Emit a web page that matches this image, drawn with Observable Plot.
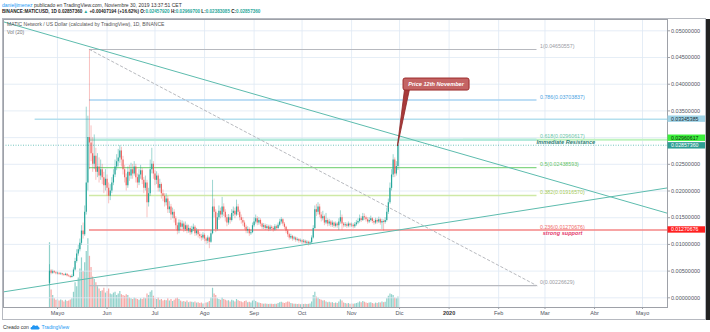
<!DOCTYPE html>
<html><head><meta charset="utf-8">
<script src="https://cdn.jsdelivr.net/npm/d3@7"></script>
<script src="https://cdn.jsdelivr.net/npm/@observablehq/plot@0.6"></script>
<style>
body{margin:0;background:#fff;font-family:"Liberation Sans",Arial,sans-serif;}
#wrap{position:relative;width:710px;height:332px;overflow:hidden;background:#fff;}
.t{position:absolute;white-space:nowrap;line-height:1;}
#pane{position:absolute;left:2px;top:18px;width:704px;height:302px;border:1px solid #b6b9c0;box-sizing:border-box;}
#strip{position:absolute;left:706px;top:19px;width:4px;height:301px;background:#222;}
.layer{position:absolute;left:0;top:19px;}
</style></head>
<body><div id="wrap">
<div class="t" style="left:2px;top:2.5px;font-size:5px;color:#333"><span style="color:#2196f3">danieljimenez</span> publicado en TradingView.com, Noviembre 30, 2019 13:37:51 CET</div>
<div class="t" style="left:2px;top:10px;font-size:4.6px;color:#222;font-weight:bold">BINANCE:MATICUSD, 1D 0.02857360 <span style="color:#26a69a">▲</span> +0.00407194 (+16.62%) O:<span style="color:#26a69a">0.02457920</span> H:<span style="color:#26a69a">0.02969700</span> L:<span style="color:#26a69a">0.02383085</span> C:<span style="color:#26a69a">0.02857360</span></div>
<div id="pane"></div>
<div id="strip"></div>
<div id="volLayer" class="layer"></div>
<div id="mainLayer" class="layer"></div>
<div class="t" style="left:7px;top:22px;font-size:5px;color:#555">MATIC Network / US Dollar (calculated by TradingView), 1D, BINANCE</div>
<div class="t" style="left:7px;top:30px;font-size:5px;color:#777">Vol (20)</div>
<div class="t" style="left:3px;top:324px;font-size:5px;color:#333">Creado con
<svg width="10" height="6" viewBox="0 0 20 12" style="vertical-align:-1px"><path d="M4 11 C0 11 0 6 4 6 C4 2 9 1 11 4 C13 2 17 3 17 6 C20 6 20 11 17 11 Z" fill="#2196f3"/></svg>
<span style="color:#2196f3">TradingView</span></div>
</div>
<script>
// ---------- DATA ----------
const startDate = "2019-04-26";
const firstOpen = 0.0027;
const closes = [
0.0050,0.0046,0.0049,0.0047,0.0045,0.0046,0.0044,0.0045,0.0043,0.0042,
0.0044,0.0041,0.0040,0.0038,0.0040,0.0052,0.0068,0.0082,0.0090,0.0102,
0.0125,0.0118,0.0160,0.0215,0.0300,0.0290,0.0270,0.0250,0.0265,0.0235,
0.0245,0.0228,0.0240,0.0225,0.0210,0.0222,0.0205,0.0190,0.0200,0.0215,
0.0230,0.0245,0.0255,0.0262,0.0275,0.0258,0.0240,0.0225,0.0210,0.0235,
0.0228,0.0240,0.0232,0.0245,0.0225,0.0215,0.0230,0.0238,0.0220,0.0205,
0.0215,0.0178,0.0195,0.0240,0.0250,0.0232,0.0220,0.0228,0.0205,0.0212,
0.0195,0.0190,0.0178,0.0185,0.0165,0.0170,0.0155,0.0160,0.0148,0.0135,
0.0125,0.0140,0.0132,0.0138,0.0128,0.0135,0.0125,0.0130,0.0122,0.0128,
0.0132,0.0120,0.0125,0.0118,0.0115,0.0112,0.0117,0.0110,0.0106,0.0112,
0.0104,0.0120,0.0170,0.0160,0.0128,0.0150,0.0162,0.0155,0.0170,0.0160,
0.0150,0.0140,0.0150,0.0145,0.0158,0.0162,0.0155,0.0170,0.0160,0.0150,
0.0145,0.0140,0.0132,0.0125,0.0128,0.0120,0.0122,0.0135,0.0142,0.0148,
0.0140,0.0145,0.0138,0.0132,0.0135,0.0130,0.0133,0.0128,0.0132,0.0130,
0.0127,0.0133,0.0130,0.0136,0.0142,0.0146,0.0138,0.0132,0.0125,0.0118,
0.0112,0.0115,0.0110,0.0112,0.0108,0.0109,0.0106,0.0107,0.0104,0.0106,
0.0102,0.0104,0.0101,0.0103,0.0112,0.0130,0.0165,0.0160,0.0170,0.0155,
0.0148,0.0152,0.0140,0.0145,0.0138,0.0142,0.0136,0.0140,0.0134,0.0138,
0.0135,0.0142,0.0150,0.0138,0.0135,0.0137,0.0134,0.0138,0.0135,0.0136,
0.0133,0.0137,0.0140,0.0143,0.0148,0.0145,0.0152,0.0150,0.0146,0.0142,
0.0145,0.0148,0.0143,0.0140,0.0145,0.0142,0.0146,0.0140,0.0143,0.0141,
0.0145,0.0160,0.0178,0.0205,0.0230,0.0258,0.0232,0.02458,0.0285736];
const highs = [
0.0062,0.0053,0.0052,0.0051,0.0049,0.0048,0.0047,0.0047,0.0046,0.0045,
0.0046,0.0045,0.0043,0.0042,0.0043,0.0056,0.0074,0.0090,0.0098,0.0110,
0.0135,0.0140,0.0172,0.0357,0.0340,0.04650557,0.0322,0.0300,0.0305,0.0280,
0.0270,0.0262,0.0258,0.0250,0.0235,0.0240,0.0230,0.0215,0.0212,0.0225,
0.0240,0.0258,0.0268,0.0278,0.0285,0.0282,0.0265,0.0248,0.0232,0.0245,
0.0248,0.0252,0.0250,0.0255,0.0250,0.0232,0.0240,0.0248,0.0242,0.0225,
0.0228,0.0220,0.0205,0.0258,0.0280,0.0255,0.0238,0.0236,0.0232,0.0222,
0.0215,0.0202,0.0195,0.0195,0.0190,0.0180,0.0175,0.0168,0.0165,0.0152,
0.0140,0.0146,0.0145,0.0144,0.0142,0.0142,0.0138,0.0136,0.0133,0.0134,
0.0138,0.0135,0.0130,0.0128,0.0122,0.0119,0.0122,0.0120,0.0113,0.0116,
0.0114,0.0126,0.0220,0.0185,0.0165,0.0158,0.0172,0.0168,0.0188,0.0176,
0.0165,0.0155,0.0156,0.0155,0.0165,0.0170,0.0168,0.0183,0.0175,0.0164,
0.0155,0.0150,0.0144,0.0136,0.0133,0.0131,0.0127,0.0140,0.0150,0.0155,
0.0152,0.0150,0.0148,0.0140,0.0139,0.0138,0.0137,0.0136,0.0136,0.0135,
0.0133,0.0137,0.0136,0.0140,0.0147,0.0150,0.0148,0.0141,0.0134,0.0128,
0.0121,0.0119,0.0117,0.0115,0.0114,0.0112,0.0111,0.0110,0.0109,0.0109,
0.0108,0.0107,0.0106,0.0106,0.0116,0.0135,0.0172,0.0175,0.0178,0.0175,
0.0160,0.0162,0.0155,0.0158,0.0148,0.0147,0.0145,0.0144,0.0142,0.0142,
0.0141,0.0148,0.0163,0.0155,0.0141,0.0141,0.0140,0.0142,0.0140,0.0140,
0.0139,0.0141,0.0145,0.0148,0.0155,0.0152,0.0158,0.0157,0.0153,0.0150,
0.0150,0.0153,0.0150,0.0146,0.0149,0.0148,0.0151,0.0149,0.0147,0.0146,
0.0150,0.0168,0.0185,0.0215,0.0240,0.0268,0.0262,0.0255,0.029697];
const lows = [
0.00226629,0.0043,0.0044,0.0045,0.0043,0.0043,0.0042,0.0042,0.0041,0.0040,
0.0041,0.0039,0.0038,0.0036,0.0037,0.0039,0.0050,0.0065,0.0078,0.0086,
0.0098,0.0110,0.0115,0.0155,0.0200,0.0240,0.0255,0.0235,0.0240,0.0220,
0.0225,0.0215,0.0220,0.0212,0.0195,0.0200,0.0190,0.0176,0.0182,0.0195,
0.0210,0.0225,0.0238,0.0245,0.0252,0.0245,0.0230,0.0215,0.0200,0.0205,
0.0218,0.0222,0.0222,0.0228,0.0215,0.0205,0.0210,0.0222,0.0212,0.0195,
0.0200,0.0150,0.0170,0.0190,0.0232,0.0222,0.0210,0.0212,0.0198,0.0198,
0.0185,0.0180,0.0170,0.0172,0.0158,0.0158,0.0145,0.0148,0.0140,0.0128,
0.0118,0.0120,0.0126,0.0128,0.0122,0.0124,0.0120,0.0121,0.0117,0.0118,
0.0124,0.0115,0.0116,0.0112,0.0110,0.0106,0.0108,0.0105,0.0100,0.0101,
0.0092,0.0102,0.0118,0.0150,0.0122,0.0125,0.0145,0.0148,0.0150,0.0152,
0.0142,0.0133,0.0136,0.0138,0.0142,0.0152,0.0148,0.0152,0.0154,0.0144,
0.0138,0.0134,0.0127,0.0120,0.0120,0.0115,0.0117,0.0120,0.0132,0.0138,
0.0135,0.0136,0.0133,0.0128,0.0128,0.0126,0.0127,0.0124,0.0125,0.0126,
0.0123,0.0125,0.0126,0.0128,0.0133,0.0138,0.0134,0.0128,0.0120,0.0113,
0.0108,0.0109,0.0106,0.0107,0.0104,0.0105,0.0102,0.0103,0.0100,0.0101,
0.0098,0.0099,0.0097,0.0098,0.0101,0.0110,0.0128,0.0152,0.0155,0.0150,
0.0142,0.0144,0.0135,0.0137,0.0133,0.0134,0.0132,0.0132,0.0130,0.0131,
0.0130,0.0126,0.0138,0.0126,0.0131,0.0132,0.0130,0.0131,0.0131,0.0132,
0.0129,0.0130,0.0134,0.0137,0.0140,0.0141,0.0143,0.0145,0.0142,0.0138,
0.0139,0.0142,0.0139,0.0136,0.0137,0.0138,0.0139,0.0136,0.0128,0.0125,
0.0138,0.0142,0.0156,0.0175,0.0200,0.0225,0.0225,0.0228,0.02383085];
const volumes = [
810,220,150,110,90,100,80,95,85,70,
90,75,80,95,110,190,310,260,370,480,
620,450,560,700,860,640,500,380,350,310,
260,230,200,210,240,180,200,230,170,160,
180,190,150,170,200,160,150,140,160,150,
120,110,100,120,110,100,90,110,100,120,
110,170,150,190,210,140,110,100,120,90,
100,80,90,85,110,80,100,75,90,110,
120,100,80,70,75,65,80,60,70,65,
60,70,55,60,50,55,45,50,55,60,
75,120,240,170,150,110,100,90,120,100,
90,80,85,70,90,80,70,100,85,75,
70,60,75,80,60,65,55,80,90,75,
60,55,50,45,40,45,40,38,42,40,
38,42,40,50,60,65,55,50,60,70,
65,50,45,40,42,38,40,35,40,38,
42,38,40,45,70,150,190,130,120,100,
90,80,85,70,60,65,55,60,50,55,
50,70,95,80,55,50,45,50,42,45,
40,45,50,55,70,60,75,65,55,50,
55,60,50,45,55,50,60,55,70,60,
65,110,140,170,160,150,120,110,130];

const monthTicks = ["2019-05-01","2019-06-01","2019-07-01","2019-08-01","2019-09-01","2019-10-01","2019-11-01","2019-12-01","2020-01-01","2020-02-01","2020-03-01","2020-04-01","2020-05-01"];
const monthLabels = ["Mayo","Jun","Jul","Ago","Sep","Oct","Nov","Dic","2020","Feb","Mar","Abr","Mayo"];
const priceTicks = [0,0.005,0.01,0.015,0.02,0.025,0.03,0.035,0.04,0.045,0.05];
// the 0.03 tick label is hidden behind the price tags in the original
const priceTickLabels = [0,0.005,0.01,0.015,0.02,0.025,0.035,0.04,0.045,0.05];

const fibLevels = ["0","0.236","0.382","0.5","0.618","0.786","1"];
const fibPrices = [0.00226629,0.01270676,0.01916570,0.02438593,0.02960617,0.03703837,0.04650557];
const fibStart = "2019-05-21", fibEnd = "2020-02-25";

const descLine = [{date:"2019-03-28",price:0.0517},{date:"2020-05-17",price:0.0158}];
const ascLine  = [{date:"2019-03-28",price:0.0011},{date:"2020-05-17",price:0.0206}];
const fibDiag  = [{date:"2019-05-21",price:0.04650557},{date:"2020-02-25",price:0.00226629}];

const blueLevel = {price:0.03345385, from:"2019-04-17"};
const resistLevel = {price:0.02960617, from:"2020-01-10"};
const lastPrice = 0.0285736;

const notes = [
  {date:"2020-03-14", price:0.02915, text:"Immediate Resistance"},
  {date:"2020-03-12", price:0.01213, text:"strong support"}
];
const callout = {tipDate:"2019-11-30", tipPrice:0.02833, boxDate:"2019-12-03T12:00Z", boxPrice:0.03994, text:"Price 12th November"};
const tags = [
  {price:0.03345385, bg:"#9fd3e6", fg:"#1b2a33", shift:0},
  {price:0.02960617, bg:"#3cf03c", fg:"#0b2a0b", shift:-1.5},
  {price:0.0285736, bg:"#2f9e93", fg:"#ffffff", shift:0.6},
  {price:0.01270676, bg:"#ff1f1f", fg:"#ffffff", shift:0}
];

// ---------- STYLES ----------
const UP = "#26a69a", DOWN = "#ef5350";
const fibColors = ["#b7b9bf","#f48686","#cfe9a6","#86d686","#b4eadc","#a9d3f2","#b7b9bf"];
const fibText   = ["#9a9ca3","#ef6b6b","#a8cc5a","#66c466","#6cc6a8","#4aa3df","#9a9ca3"];
const fibWidth  = [1.2,1.4,1.6,1.2,2.4,1.6,1.2];

// ---------- BUILD ----------
const D = s => new Date(s.length === 10 ? s + "T00:00:00Z" : s);
const DAY = 864e5;
const t0 = D(startDate).getTime();
const candles = closes.map((c, i) => ({
  date: new Date(t0 + i * DAY),
  open: i === 0 ? firstOpen : closes[i - 1],
  close: c, high: highs[i], low: lows[i], volume: volumes[i]
}));
const upC = candles.filter(d => d.close >= d.open);
const downC = candles.filter(d => d.close < d.open);
const xDomain = [D("2019-03-28T05:17:00Z"), D("2020-05-16T15:22:00Z")];
const ticksD = monthTicks.map(D);
const labelOf = new Map(ticksD.map((d, i) => [+d, monthLabels[i]]));
const pt = a => a.map(p => ({date: D(p.date), price: p.price}));

const common = {width:710, height:301, marginLeft:3, marginRight:43, marginBottom:13};
const fontFam = '"Liberation Sans", Arial, sans-serif';

const vol = Plot.plot({
  ...common, marginTop:208,
  x:{type:"utc", domain:xDomain, axis:null},
  y:{domain:[0,1000], axis:null},
  style:{background:"transparent"},
  marks:[
    Plot.ruleX(upC, {x:"date", y1:0, y2:"volume", stroke:UP, strokeOpacity:0.5, strokeWidth:1.2}),
    Plot.ruleX(downC, {x:"date", y1:0, y2:"volume", stroke:DOWN, strokeOpacity:0.5, strokeWidth:1.2})
  ]
});
document.getElementById("volLayer").appendChild(vol);

function calloutMark(index, scales, values, dims) {
  const ax = scales.x(D(callout.tipDate)), ay = scales.y(callout.tipPrice);
  const bx = scales.x(D(callout.boxDate)), by = scales.y(callout.boxPrice);
  const g = d3.create("svg:g");
  g.append("path").attr("d", `M${bx+1.5},${by+5} L${bx+6.5},${by+5} L${ax},${ay} Z`)
    .attr("fill","#a83a3a").attr("stroke","#8e2424").attr("stroke-width",0.8);
  g.append("rect").attr("x",bx).attr("y",by-6).attr("width",66).attr("height",12).attr("rx",2)
    .attr("fill","#c46464").attr("stroke","#9c2c2c").attr("stroke-width",1);
  g.append("text").attr("x",bx+33).attr("y",by).attr("dy","0.35em").attr("text-anchor","middle")
    .attr("fill","#fff").attr("font-size",5.6).attr("font-weight","bold").attr("font-style","italic")
    .attr("font-family",fontFam).text(callout.text);
  return g.node();
}
function tagMark(index, scales, values, dims) {
  const g = d3.create("svg:g").attr("text-anchor","start");
  const x0 = dims.width - dims.marginRight;
  tags.forEach(t => {
    const yy = scales.y(t.price) + t.shift;
    g.append("rect").attr("x",x0+0.5).attr("y",yy-3.2).attr("width",37.5).attr("height",6.4).attr("fill",t.bg);
    g.append("text").attr("x",x0+4).attr("y",yy).attr("dy","0.36em").attr("font-size",5.2)
      .attr("text-anchor","start").attr("font-family",fontFam).attr("fill",t.fg).text(t.price.toFixed(8));
  });
  return g.node();
}

const fibMarks = fibPrices.flatMap((p, i) => [
  Plot.ruleY([p], {x1:() => D(fibStart), x2:() => D(i === 1 ? "2020-05-17" : fibEnd), stroke:fibColors[i], strokeWidth:fibWidth[i]}),
  Plot.text([p], {x:() => D(fibEnd), y:d => d, text:() => `${fibLevels[i]}(${p.toFixed(8)})`, dx:3, dy:-3, textAnchor:"start", fill:fibText[i], fontSize:5.3})
]);

const main = Plot.plot({
  ...common, marginTop:0,
  x:{type:"utc", domain:xDomain},
  y:{domain:[-0.001816, 0.05212]},
  style:{background:"transparent", fontFamily:fontFam, fontSize:"5.5px", color:"#50535e", overflow:"visible"},
  marks:[
    Plot.gridX(ticksD, {stroke:"#dfe9f4", strokeOpacity:0.8}),
    Plot.gridY(priceTicks, {stroke:"#dfe9f4", strokeOpacity:0.8}),
    Plot.ruleY([blueLevel.price], {x1:() => D(blueLevel.from), x2:() => xDomain[1], stroke:"#b4dfee", strokeWidth:1.5}),
    Plot.ruleY([resistLevel.price], {x1:() => D(resistLevel.from), x2:() => xDomain[1], stroke:"#bff3bf", strokeWidth:2}),
    ...fibMarks,
    Plot.ruleX(upC, {x:"date", y1:"low", y2:"high", stroke:UP, strokeWidth:0.6, strokeOpacity:0.75}),
    Plot.ruleX(downC, {x:"date", y1:"low", y2:"high", stroke:DOWN, strokeWidth:0.6, strokeOpacity:0.6}),
    Plot.ruleX(upC, {x:"date", y1:"open", y2:"close", stroke:UP, strokeWidth:1.2}),
    Plot.ruleX(downC, {x:"date", y1:"open", y2:"close", stroke:DOWN, strokeWidth:1.2, strokeOpacity:0.85}),
    Plot.ruleY([lastPrice], {stroke:UP, strokeDasharray:"1,1.5", strokeOpacity:0.8, strokeWidth:0.8}),
    Plot.line(pt(fibDiag), {x:"date", y:"price", stroke:"#b0b2b8", strokeDasharray:"2.5,2.5", strokeWidth:0.9}),
    Plot.line(pt(descLine), {x:"date", y:"price", stroke:"#5dbcae", strokeWidth:1, clip:true}),
    Plot.line(pt(ascLine), {x:"date", y:"price", stroke:"#5dbcae", strokeWidth:1, clip:true}),
    Plot.text([notes[0]], {x:d => D(d.date), y:"price", text:"text", fill:"#2e7f74", fontSize:5.6, fontWeight:"bold", fontStyle:"italic"}),
    Plot.text([notes[1]], {x:d => D(d.date), y:"price", text:"text", fill:"#e33a6d", fontSize:5.6, fontWeight:"bold", fontStyle:"italic"}),
    calloutMark,
    Plot.frame({stroke:"#9ea1a8"}),
    Plot.axisY(priceTickLabels, {anchor:"right", tickSize:2, tickPadding:1.5, tickFormat:d => d.toFixed(8), stroke:"#9ea1a8"}),
    Plot.axisX(ticksD, {anchor:"bottom", tickSize:2, tickPadding:2, tickFormat:() => "", stroke:"#9ea1a8"}),
    Plot.text(ticksD.filter(d => labelOf.get(+d) !== "2020"), {x:d => d, frameAnchor:"bottom", dy:7, text:d => labelOf.get(+d), fill:"#50535e"}),
    Plot.text(ticksD.filter(d => labelOf.get(+d) === "2020"), {x:d => d, frameAnchor:"bottom", dy:7, text:d => labelOf.get(+d), fill:"#333", fontWeight:"bold"}),
    tagMark
  ]
});
document.getElementById("mainLayer").appendChild(main);
</script>
</body></html>
